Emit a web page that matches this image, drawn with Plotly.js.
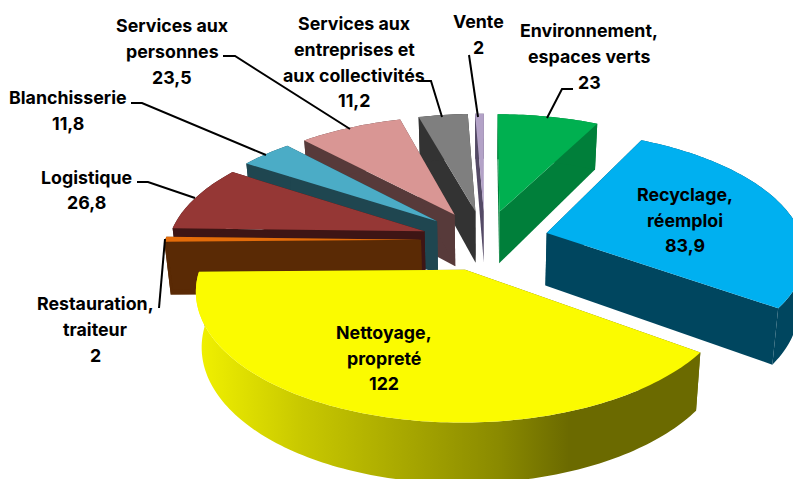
<!DOCTYPE html>
<html><head><meta charset="utf-8">
<script src="https://cdn.plot.ly/plotly-3.0.1.min.js"></script>
<style>html,body{margin:0;padding:0;background:#fff;overflow:hidden}</style>
</head><body><div id="chart" style="width:793px;height:479px"></div>
<script>
// Data, in pie order (clockwise from 12 o'clock)
const categories = ['Environnement, espaces verts','Recyclage, réemploi','Nettoyage, propreté','Restauration, traiteur','Logistique','Blanchisserie','Services aux personnes','Services aux entreprises et aux collectivités','Vente'];
const values = [23,83.9,122,2,26.8,11.8,23.5,11.2,2];
const topColors = ['#00B050','#00B0F0','#FBFB00','#E46C0A','#953735','#4BACC6','#D99694','#7F7F7F','#B3A2C7'];
const wallColors = ['#007F3A','#00465F','#6B6A00','#5A2A05','#3E1515','#1F4650','#573A3A','#333333','#544A66'];
const labelLines = [
  ['Environnement,','espaces verts','23'],
  ['Recyclage,','réemploi','83,9'],
  ['Nettoyage,','propreté','122'],
  ['Restauration,','traiteur','2'],
  ['Logistique','26,8'],
  ['Blanchisserie','11,8'],
  ['Services aux','personnes','23,5'],
  ['Services aux','entreprises et','aux collectivités','11,2'],
  ['Vente','2']];
const labelX = [589,685,384,95,86,68,172,354,478];
const labelY = [[30,56,82],[194,220,245],[332,358,383],[303,329,355],[177,202],[97,123],[25,51,77],[23,49,75,100],[21,47]];
const leaders = [
  'M547,118 L562,89 L573,89',
  'M469,55 L478,117',
  'M420,81 L431,81 L442,117',
  'M223,56 L235,56 L350,129',
  'M131,103 L142,103 L266,155',
  'M137,182 L148,182 L195,198',
  'M165,239 L159,308'];
const drawOrder = [8,7,6,5,4,3,0,1,2];

// Projection of the tilted pie onto the page
const cx=485, cy=240, A=256, B=120, k=0.15, explode=0.25, wallH=53, bottomScale=0.98;
function project(u,v,low){
  const s=1/(1+k*v);
  if(!low) return [cx+A*u*s, cy-B*v*s];
  return [cx+A*u*s*bottomScale, cy-B*v*s+wallH*(1-0.12*v)];
}
const total=values.reduce((a,b)=>a+b,0);
const traces=[];
function addFill(xs,ys,color,gradient,name){
  const t={x:xs,y:ys,mode:'none',fill:'toself',fillcolor:color,hoverinfo:'skip',showlegend:false,name:name};
  if(gradient) t.fillgradient=gradient;
  traces.push(t);
}
function poly(pts,color,name){
  addFill(pts.map(p=>p[0]).concat(pts[0][0]),pts.map(p=>p[1]).concat(pts[0][1]),color,null,name);
}
function band(top,low,color,gradient,name){
  // one quad per rim step, so the extruded silhouette is filled
  const xs=[],ys=[];
  for(let j=0;j<top.length-1;j++){
    [top[j],top[j+1],low[j+1],low[j],top[j]].forEach(p=>{xs.push(p[0]);ys.push(p[1]);});
    if(j<top.length-2){xs.push(null);ys.push(null);}
  }
  addFill(xs,ys,color,gradient,name);
}
const starts=[];let acc=0;values.forEach(v=>{starts.push(acc);acc+=v;});
const yellowWall={type:'horizontal',colorscale:[[0,'#F2F200'],[0.21,'#C8C800'],[0.6,'#8A8A00'],[0.74,'#6B6A00'],[1,'#6B6A00']]};
drawOrder.forEach(i=>{
  const a0=starts[i]/total*2*Math.PI, a1=(starts[i]+values[i])/total*2*Math.PI, m=(a0+a1)/2;
  const ax=explode*Math.sin(m), ay=explode*Math.cos(m);
  const rim=[];const n=Math.max(4,Math.ceil((a1-a0)/0.02));
  for(let j=0;j<=n;j++){const t=a0+(a1-a0)*j/n;rim.push([ax+Math.sin(t),ay+Math.cos(t)]);}
  const topRim=rim.map(p=>project(p[0],p[1],false));
  const lowRim=rim.map(p=>project(p[0],p[1],true));
  const apexT=project(ax,ay,false), apexL=project(ax,ay,true);
  const wc=wallColors[i];
  poly([apexT,topRim[0],lowRim[0],apexL],wc,categories[i]);
  poly([apexT,topRim[n],lowRim[n],apexL],wc,categories[i]);
  band(topRim,lowRim,wc,i===2?yellowWall:null,categories[i]);
  poly([apexT].concat(topRim),topColors[i],categories[i]);
});
const annotations=[];
labelLines.forEach((lines,i)=>lines.forEach((txt,j)=>annotations.push({
  x:labelX[i],y:labelY[i][j],xref:'x',yref:'y',text:txt,showarrow:false,xanchor:'center',yanchor:'middle',
  font:{family:'Inter, sans-serif',size:17.8,color:'#000',weight:700}
})));
const layout={width:793,height:479,margin:{l:0,r:0,t:0,b:0},paper_bgcolor:'#fff',plot_bgcolor:'#fff',showlegend:false,
  xaxis:{range:[0,793],visible:false,fixedrange:true},
  yaxis:{range:[479,0],visible:false,fixedrange:true},
  annotations:annotations,
  shapes:leaders.map(p=>({type:'path',path:p,xref:'x',yref:'y',line:{color:'#000',width:2},fillcolor:'rgba(0,0,0,0)',layer:'above'}))
};
Plotly.newPlot('chart',traces,layout,{staticPlot:true,displayModeBar:false});
</script></body></html>
